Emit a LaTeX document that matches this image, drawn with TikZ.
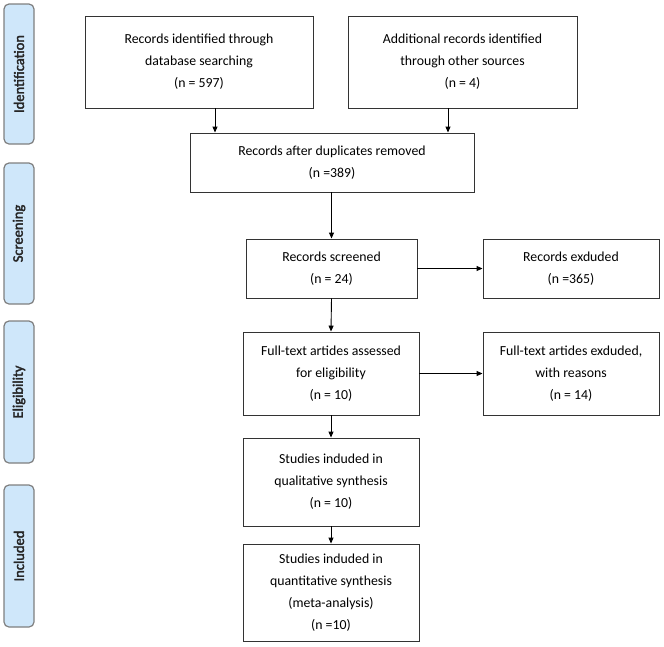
\documentclass[tikz,border=0pt]{standalone}
\usepackage{fontspec}
\setmainfont{Carlito}
\newfontfamily\phasefont{Carlito}[FakeBold=2.5]
\usetikzlibrary{arrows.meta}
\definecolor{phasefill}{HTML}{CFE7FA}
\definecolor{phasedraw}{HTML}{7F7F7F}
\begin{document}
\begin{tikzpicture}[x=1pt,y=-1pt,
  box/.style={draw=black!80,line width=0.9pt,fill=white,align=center,font=\fontsize{13.8}{22}\selectfont,inner sep=0pt},
  phase/.style={draw=phasedraw,line width=1.2pt,fill=phasefill,rounded corners=5pt},
  phasetext/.style={rotate=90,font=\phasefont\fontsize{14.5}{16}\selectfont,text=black!85},
  arr/.style={draw=black,line width=0.9pt,-{Triangle[length=6pt,width=5pt]}}]
\useasboundingbox (0,0) rectangle (664,646);
% phase labels
\newcommand{\phaselabel}[4]{%
  \draw[phase] (4,#1) rectangle (34,#2);
  \node[phasetext] (#3) at (19,{(#1+#2)/2}) {#4};}
\phaselabel{4}{144}{pid}{Identification}
\phaselabel{163}{304}{psc}{Screening}
\phaselabel{321}{463}{pel}{Eligibility}
\phaselabel{485}{627}{pin}{Included}
% boxes
\node[box,minimum width=228pt,minimum height=92pt] (b1) at (199,62) {Records identified through\\database searching\\(n = 597)};
\node[box,minimum width=229pt,minimum height=92pt] (b2) at (462.5,62) {Additional records identified\\through other sources\\(n = 4)};
\node[box,minimum width=284pt,minimum height=59pt] (b3) at (332,162.5) {Records after duplicates removed\\(n =389)};
\node[box,minimum width=171pt,minimum height=59pt] (b4) at (331.5,268.5) {Records screened\\(n = 24)};
\node[box,minimum width=176pt,minimum height=59pt] (b5) at (571,268.5) {Records exduded\\(n =365)};
\node[box,minimum width=176pt,minimum height=83pt] (b6) at (331,373.5) {Full-text artides assessed\\for eligibility\\(n = 10)};
\node[box,minimum width=176pt,minimum height=83pt] (b7) at (571,373.5) {Full-text artides exduded,\\with reasons\\(n = 14)};
\node[box,minimum width=176pt,minimum height=88pt] (b8) at (331,482) {Studies induded in\\qualitative synthesis\\(n = 10)};
\node[box,minimum width=176pt,minimum height=97pt] (b9) at (331,592.5) {Studies induded in\\quantitative synthesis\\(meta-analysis)\\(n =10)};
% arrows
\draw[arr] (b1.south -| 215,0) -- (b3.north -| 215,0);
\draw[arr] (b2.south -| 448,0) -- (b3.north -| 448,0);
\draw[arr] (b3.south -| b4) -- (b4.north);
\draw[arr] (b4.east) -- (b5.west);
\draw[arr] (b4.south) -- (b6.north);
\draw[arr] (b6.east) -- (b7.west);
\draw[arr] (b6.south) -- (b8.north);
\draw[arr] (b8.south) -- (b9.north);
\end{tikzpicture}
\end{document}
